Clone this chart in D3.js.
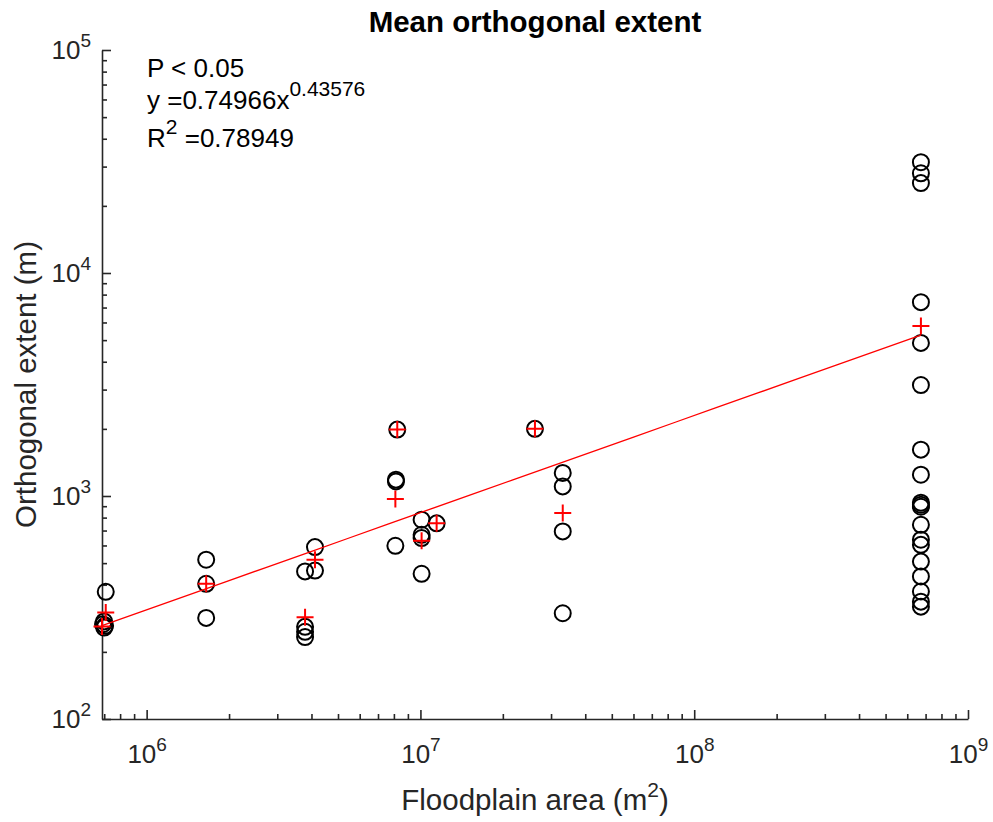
<!DOCTYPE html>
<html>
<head>
<meta charset="utf-8">
<script src="https://cdn.jsdelivr.net/npm/d3@7"></script>
<style>
  body { margin: 0; background: #fff; }
  text { font-family: Arial, "Liberation Sans", Helvetica, sans-serif; }
</style>
</head>
<body>
<svg id="chart" width="993" height="822"></svg>
<script>
// Observed floodplain sites: area (m^2) and orthogonal extent (m)
const obsArea = [
  7.09e5, 6.99e5, 6.93e5, 7.05e5, 7.0e5,
  1.65e6, 1.65e6, 1.65e6,
  3.79e6, 3.79e6, 3.79e6, 3.79e6, 4.12e6, 4.12e6,
  8.23e6, 8.14e6, 8.14e6, 8.1e6,
  1.01e7, 1.01e7, 1.01e7, 1.01e7, 1.146e7,
  2.62e7, 3.31e7, 3.31e7, 3.31e7, 3.31e7,
  6.73e8, 6.73e8, 6.73e8, 6.73e8, 6.73e8, 6.73e8, 6.73e8, 6.73e8, 6.73e8, 6.73e8,
  6.73e8, 6.73e8, 6.73e8, 6.73e8, 6.73e8, 6.73e8, 6.73e8, 6.73e8, 6.73e8
];
const obsExtent = [
  372, 274, 266, 262, 257,
  518, 404, 284,
  459, 259, 246, 233, 590, 463,
  1985, 1184, 1163, 598,
  783, 670, 648, 448, 754,
  2000, 1269, 1104, 694, 298,
  31400, 28000, 25300, 7400, 4860, 3145, 1614, 1246, 933, 914,
  895, 743, 637, 604, 508, 436, 373, 336, 319
];

// Per-site mean values
const meanArea   = [6.87e5, 7.09e5, 1.65e6, 3.79e6, 4.12e6, 8.1e6, 8.23e6, 1.01e7, 1.146e7, 2.62e7, 3.31e7, 6.73e8];
const meanExtent = [260,    300,    404,    286,    518,    969,   1985,   630,    754,     2000,   839,    5780];

// Power-law fit y = a * x^b
const fitCoef = 0.74966;
const fitExp = 0.43576;
const fitR2 = "0.78949";
const fitP = "P < 0.05";

// Axes
const xDomain = [6.87e5, 1e9];
const yDomain = [1e2, 1e5];
const xMajorTicks = [1e6, 1e7, 1e8, 1e9];
const yMajorTicks = [1e2, 1e3, 1e4, 1e5];

const titleText = "Mean orthogonal extent";
const xLabelText = "Floodplain area (m";
const yLabelText = "Orthogonal extent (m)";

const svg = d3.select("#chart");
const plotLeft = 102, plotRight = 968, plotTop = 50, plotBottom = 719;
const axisColor = "#262626";

const x = d3.scaleLog().domain(xDomain).range([plotLeft, plotRight]);
const y = d3.scaleLog().domain(yDomain).range([plotBottom, plotTop]);

function minorTicks(domain) {
  const out = [];
  const lo = Math.floor(Math.log10(domain[0])), hi = Math.ceil(Math.log10(domain[1]));
  for (let k = lo; k < hi; k++) {
    for (let m = 2; m <= 9; m++) {
      const v = m * Math.pow(10, k);
      if (v > domain[0] && v < domain[1]) out.push(v);
    }
  }
  return out;
}

function styleAxis(g) {
  g.selectAll("path.domain").attr("stroke", axisColor).attr("stroke-width", 1.6);
  g.selectAll(".tick line").attr("stroke", axisColor).attr("stroke-width", 1.6);
}

function powerLabel(sel, d) {
  sel.text(null);
  sel.append("tspan").text("10");
  sel.append("tspan").attr("dy", -12).attr("font-size", 19).text(Math.round(Math.log10(d)));
}

// X axis: minor ticks, then major ticks with labels
const gx = svg.append("g").attr("transform", `translate(0,${plotBottom})`);
gx.append("g").call(d3.axisBottom(x).tickValues(minorTicks(xDomain)).tickSizeInner(-5).tickSizeOuter(0).tickFormat(""))
  .call(styleAxis);
const gxMajor = gx.append("g").call(d3.axisBottom(x).tickValues(xMajorTicks).tickSizeInner(-9).tickSizeOuter(0));
gxMajor.call(styleAxis);
gxMajor.select("path.domain").remove();
gxMajor.selectAll(".tick text")
  .attr("y", 44).attr("dy", 0)
  .attr("fill", axisColor).attr("font-size", 26)
  .each(function (d) { powerLabel(d3.select(this), d); });

// Y axis
const gy = svg.append("g").attr("transform", `translate(${plotLeft},0)`);
gy.append("g").call(d3.axisLeft(y).tickValues(minorTicks(yDomain)).tickSizeInner(-5).tickSizeOuter(0).tickFormat(""))
  .call(styleAxis);
const gyMajor = gy.append("g").call(d3.axisLeft(y).tickValues(yMajorTicks).tickSizeInner(-9).tickSizeOuter(0));
gyMajor.call(styleAxis);
gyMajor.select("path.domain").remove();
gyMajor.selectAll(".tick text")
  .attr("x", -11).attr("y", 8).attr("dy", 0)
  .attr("fill", axisColor).attr("font-size", 26)
  .each(function (d) { powerLabel(d3.select(this), d); });
svg.selectAll("g").attr("font-family", null);

// Observations
const obs = obsArea.map((a, i) => ({ a, e: obsExtent[i] }));
svg.append("g").selectAll("circle").data(obs).join("circle")
  .attr("cx", d => x(d.a)).attr("cy", d => y(d.e)).attr("r", 8)
  .attr("fill", "none").attr("stroke", "#000").attr("stroke-width", 2);

// Fitted power law, drawn across the sampled area range
const fitX = d3.extent(meanArea.concat(obsArea));
const fitPts = d3.range(0, 21).map(i => {
  const la = Math.log10(fitX[0]) + i / 20 * (Math.log10(fitX[1]) - Math.log10(fitX[0]));
  const a = Math.pow(10, la);
  return [a, fitCoef * Math.pow(a, fitExp)];
});
svg.append("path").datum(fitPts)
  .attr("d", d3.line().x(d => x(d[0])).y(d => y(d[1])))
  .attr("fill", "none").attr("stroke", "#ff0000").attr("stroke-width", 1.3);

// Means
const means = meanArea.map((a, i) => ({ a, e: meanExtent[i] }));
svg.append("g").selectAll("path").data(means).join("path")
  .attr("transform", d => `translate(${x(d.a)},${y(d.e)})`)
  .attr("d", "M-8.5,0H8.5M0,-8.5V8.5")
  .attr("fill", "none").attr("stroke", "#ff0000").attr("stroke-width", 2);

// Title
svg.append("text").attr("x", (plotLeft + plotRight) / 2).attr("y", 32)
  .attr("text-anchor", "middle").attr("font-weight", "bold").attr("font-size", 29.5)
  .attr("fill", "#000").text(titleText);

// Axis labels
const xl = svg.append("text").attr("x", (plotLeft + plotRight) / 2).attr("y", 810)
  .attr("text-anchor", "middle").attr("font-size", 29.5).attr("fill", axisColor);
xl.append("tspan").text(xLabelText);
xl.append("tspan").attr("dy", -13).attr("font-size", 21).text("2");
xl.append("tspan").attr("dy", 13).text(")");

svg.append("text").attr("transform", `translate(36,${(plotTop + plotBottom) / 2}) rotate(-90)`)
  .attr("text-anchor", "middle").attr("font-size", 29.5).attr("fill", axisColor)
  .text(yLabelText);

// Fit statistics
const ann = svg.append("g").attr("font-size", 26).attr("fill", "#000");
ann.append("text").attr("x", 147).attr("y", 77).text(fitP);
const eq = ann.append("text").attr("x", 147).attr("y", 109);
eq.append("tspan").text("y =" + fitCoef + "x");
eq.append("tspan").attr("dy", -13).attr("font-size", 21).text(fitExp);
const r2 = ann.append("text").attr("x", 147).attr("y", 147);
r2.append("tspan").text("R");
r2.append("tspan").attr("dy", -13).attr("font-size", 21).text("2");
r2.append("tspan").attr("dy", 13).text(" =" + fitR2);
</script>
</body>
</html>
